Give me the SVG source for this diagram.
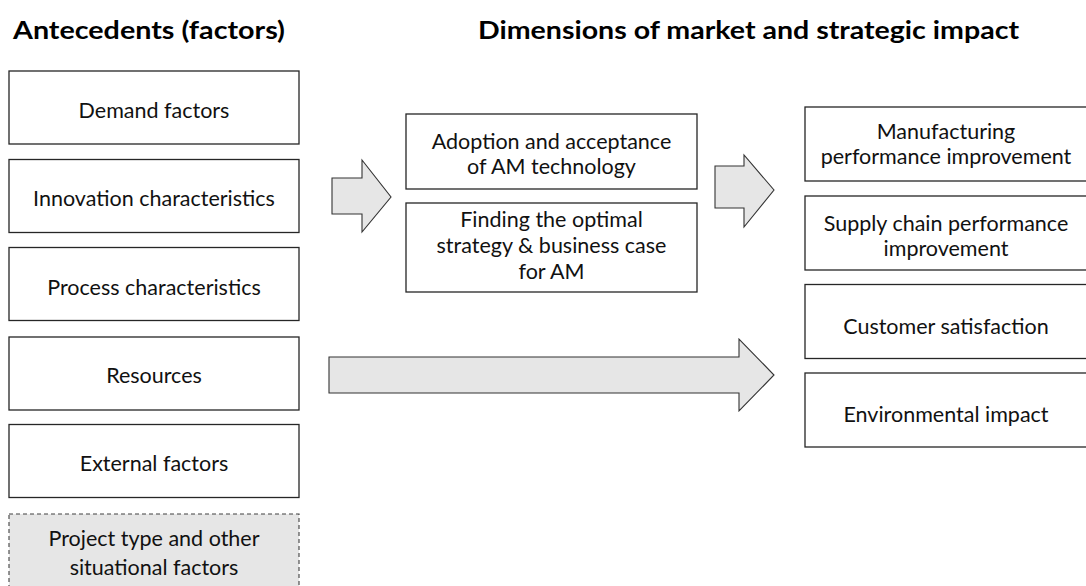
<svg xmlns="http://www.w3.org/2000/svg" width="1086" height="586" viewBox="0 0 1086 586">
<style>
.box{fill:#fff;stroke:#262626;stroke-width:1.3}
.dash{fill:#e6e6e6;stroke:#404040;stroke-width:1.1;stroke-dasharray:4 3}
.arr{fill:#e6e6e6;stroke:#333;stroke-width:1.1;stroke-linejoin:miter}
.t{font-family:Lato,"Liberation Sans",sans-serif;font-size:21.5px;fill:#111;text-anchor:middle}
.h{font-family:Lato,"Liberation Sans",sans-serif;font-size:25px;font-weight:bold;fill:#000}
</style>
<rect width="1086" height="586" fill="#fff"/>
<g id="titles">
<text class="h" x="13" y="39" textLength="272" lengthAdjust="spacingAndGlyphs">Antecedents (factors)</text>
<text class="h" x="478" y="39" textLength="541" lengthAdjust="spacingAndGlyphs">Dimensions of market and strategic impact</text>
</g>
<g id="demand"><rect class="box" x="9" y="71" width="290" height="73"/><text class="t" x="154" y="118">Demand factors</text></g>
<g id="innovation"><rect class="box" x="9" y="159.5" width="290" height="73"/><text class="t" x="154" y="206">Innovation characteristics</text></g>
<g id="process"><rect class="box" x="9" y="247.5" width="290" height="73"/><text class="t" x="154" y="295">Process characteristics</text></g>
<g id="resources"><rect class="box" x="9" y="337" width="290" height="73"/><text class="t" x="154" y="383">Resources</text></g>
<g id="external"><rect class="box" x="9" y="424.5" width="290" height="73"/><text class="t" x="154" y="471">External factors</text></g>
<g id="project"><rect class="dash" x="9" y="514" width="290" height="80"/><text class="t" x="154" y="546">Project type and other</text><text class="t" x="154" y="575">situational factors</text></g>
<g id="adoption"><rect class="box" x="406" y="114" width="291" height="75"/><text class="t" x="551.5" y="149">Adoption and acceptance</text><text class="t" x="551.5" y="174">of AM technology</text></g>
<g id="strategy"><rect class="box" x="406" y="203" width="291" height="89"/><text class="t" x="551.5" y="227">Finding the optimal</text><text class="t" x="551.5" y="253">strategy &amp; business case</text><text class="t" x="551.5" y="279">for AM</text></g>
<g id="manufacturing"><rect class="box" x="805" y="107" width="284" height="74"/><text class="t" x="946" y="139">Manufacturing</text><text class="t" x="946" y="164">performance improvement</text></g>
<g id="supply"><rect class="box" x="805" y="196" width="284" height="74"/><text class="t" x="946" y="231">Supply chain performance</text><text class="t" x="946" y="256">improvement</text></g>
<g id="customer"><rect class="box" x="805" y="284.5" width="284" height="74"/><text class="t" x="946" y="334">Customer satisfaction</text></g>
<g id="environmental"><rect class="box" x="805" y="373" width="284" height="74"/><text class="t" x="946" y="422">Environmental impact</text></g>
<g id="connectors">
<polygon class="arr" points="332,178 362,178 362,160 391,197 362,232 362,214 332,214"/>
<polygon class="arr" points="715,166 744,166 744,155 774,190 744,227 744,208 715,208"/>
<polygon class="arr" points="329,357 739,357 739,339 774,375 739,411 739,393 329,393"/>
</g>
</svg>
